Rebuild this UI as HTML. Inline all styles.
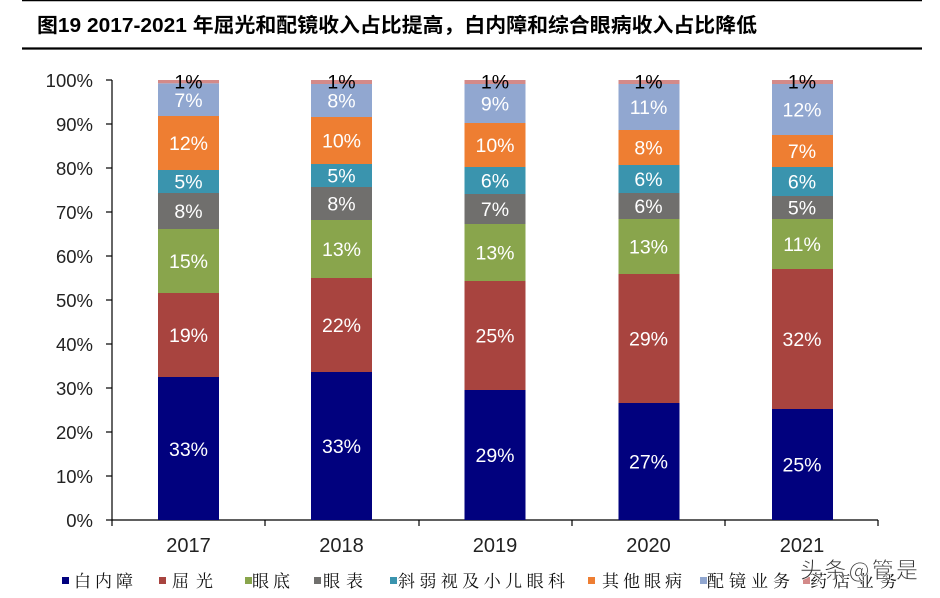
<!DOCTYPE html>
<html><head><meta charset="utf-8"><style>
html,body{margin:0;padding:0;background:#fff;}
svg{display:block;}
</style></head><body>
<svg width="940" height="598" viewBox="0 0 940 598" xmlns="http://www.w3.org/2000/svg" font-family="'Liberation Sans','Noto Sans CJK SC',sans-serif">
<rect width="940" height="598" fill="#fff"/>
<line x1="22" y1="0.5" x2="922" y2="0.5" stroke="#000" stroke-width="1.5"/>
<line x1="22" y1="48.5" x2="922" y2="48.5" stroke="#000" stroke-width="2.2"/>
<text x="37" y="32" font-size="20" font-weight="bold" fill="#000" textLength="720" lengthAdjust="spacingAndGlyphs">图19 2017-2021 年屈光和配镜收入占比提高，白内障和综合眼病收入占比降低</text>

<!-- axes -->
<g stroke="#000" stroke-width="1.2" fill="none">
<line x1="112" y1="80" x2="112" y2="520"/>
<line x1="112" y1="520" x2="878" y2="520"/>
<line x1="106" y1="80" x2="112" y2="80"/>
<line x1="106" y1="124" x2="112" y2="124"/>
<line x1="106" y1="168" x2="112" y2="168"/>
<line x1="106" y1="212" x2="112" y2="212"/>
<line x1="106" y1="256" x2="112" y2="256"/>
<line x1="106" y1="300" x2="112" y2="300"/>
<line x1="106" y1="344" x2="112" y2="344"/>
<line x1="106" y1="388" x2="112" y2="388"/>
<line x1="106" y1="432" x2="112" y2="432"/>
<line x1="106" y1="476" x2="112" y2="476"/>
<line x1="106" y1="520" x2="112" y2="520"/>
<line x1="112" y1="520" x2="112" y2="526"/>
<line x1="265" y1="520" x2="265" y2="526"/>
<line x1="419" y1="520" x2="419" y2="526"/>
<line x1="572" y1="520" x2="572" y2="526"/>
<line x1="725" y1="520" x2="725" y2="526"/>
<line x1="878" y1="520" x2="878" y2="526"/>
</g>
<g font-size="18.5" fill="#222" text-anchor="end">
<text x="93" y="87">100%</text>
<text x="93" y="131">90%</text>
<text x="93" y="175">80%</text>
<text x="93" y="219">70%</text>
<text x="93" y="263">60%</text>
<text x="93" y="307">50%</text>
<text x="93" y="351">40%</text>
<text x="93" y="395">30%</text>
<text x="93" y="439">20%</text>
<text x="93" y="483">10%</text>
<text x="93" y="527">0%</text>
</g>
<g font-size="20" fill="#222" text-anchor="middle">
<text x="188.5" y="552">2017</text>
<text x="341.5" y="552">2018</text>
<text x="495" y="552">2019</text>
<text x="648.5" y="552">2020</text>
<text x="802" y="552">2021</text>
</g>

<!-- bars -->
<!-- 2017 -->
<g>
<rect x="158" y="377" width="61" height="143" fill="#01017E"/>
<rect x="158" y="293" width="61" height="84" fill="#A8443F"/>
<rect x="158" y="229" width="61" height="64" fill="#89A54C"/>
<rect x="158" y="193" width="61" height="36" fill="#706F6D"/>
<rect x="158" y="170" width="61" height="23" fill="#3A94AE"/>
<rect x="158" y="116" width="61" height="54" fill="#EE7E32"/>
<rect x="158" y="83.3" width="61" height="32.7" fill="#91A7D0"/>
<rect x="158" y="80" width="61" height="3.3" fill="#D38A89"/>
</g>
<g>
<rect x="311" y="372" width="61" height="148" fill="#01017E"/>
<rect x="311" y="278" width="61" height="94" fill="#A8443F"/>
<rect x="311" y="220" width="61" height="58" fill="#89A54C"/>
<rect x="311" y="187" width="61" height="33" fill="#706F6D"/>
<rect x="311" y="164" width="61" height="23" fill="#3A94AE"/>
<rect x="311" y="117" width="61" height="47" fill="#EE7E32"/>
<rect x="311" y="84" width="61" height="33" fill="#91A7D0"/>
<rect x="311" y="80" width="61" height="4" fill="#D38A89"/>
</g>
<g>
<rect x="464.5" y="390" width="61" height="130" fill="#01017E"/>
<rect x="464.5" y="281" width="61" height="109" fill="#A8443F"/>
<rect x="464.5" y="224" width="61" height="57" fill="#89A54C"/>
<rect x="464.5" y="194" width="61" height="30" fill="#706F6D"/>
<rect x="464.5" y="167" width="61" height="27" fill="#3A94AE"/>
<rect x="464.5" y="123" width="61" height="44" fill="#EE7E32"/>
<rect x="464.5" y="84" width="61" height="39" fill="#91A7D0"/>
<rect x="464.5" y="80" width="61" height="4" fill="#D38A89"/>
</g>
<g>
<rect x="618.5" y="403" width="61" height="117" fill="#01017E"/>
<rect x="618.5" y="274" width="61" height="129" fill="#A8443F"/>
<rect x="618.5" y="219" width="61" height="55" fill="#89A54C"/>
<rect x="618.5" y="193" width="61" height="26" fill="#706F6D"/>
<rect x="618.5" y="165" width="61" height="28" fill="#3A94AE"/>
<rect x="618.5" y="130" width="61" height="35" fill="#EE7E32"/>
<rect x="618.5" y="84" width="61" height="46" fill="#91A7D0"/>
<rect x="618.5" y="80" width="61" height="4" fill="#D38A89"/>
</g>
<g>
<rect x="772" y="409" width="61" height="111" fill="#01017E"/>
<rect x="772" y="269" width="61" height="140" fill="#A8443F"/>
<rect x="772" y="219" width="61" height="50" fill="#89A54C"/>
<rect x="772" y="196" width="61" height="23" fill="#706F6D"/>
<rect x="772" y="167" width="61" height="29" fill="#3A94AE"/>
<rect x="772" y="135" width="61" height="32" fill="#EE7E32"/>
<rect x="772" y="84" width="61" height="51" fill="#91A7D0"/>
<rect x="772" y="80" width="61" height="4" fill="#D38A89"/>
</g>

<!-- bar labels -->
<g font-size="19.5" fill="#fff" text-anchor="middle">
<text x="188.5" y="456">33%</text>
<text x="188.5" y="342">19%</text>
<text x="188.5" y="268">15%</text>
<text x="188.5" y="218">8%</text>
<text x="188.5" y="188.5">5%</text>
<text x="188.5" y="150">12%</text>
<text x="188.5" y="107">7%</text>

<text x="341.5" y="453">33%</text>
<text x="341.5" y="332">22%</text>
<text x="341.5" y="256">13%</text>
<text x="341.5" y="210.5">8%</text>
<text x="341.5" y="182.5">5%</text>
<text x="341.5" y="147.5">10%</text>
<text x="341.5" y="107.5">8%</text>

<text x="495" y="462">29%</text>
<text x="495" y="342.5">25%</text>
<text x="495" y="259.5">13%</text>
<text x="495" y="216">7%</text>
<text x="495" y="187.5">6%</text>
<text x="495" y="152">10%</text>
<text x="495" y="110.5">9%</text>

<text x="648.5" y="468.5">27%</text>
<text x="648.5" y="345.5">29%</text>
<text x="648.5" y="253.5">13%</text>
<text x="648.5" y="213">6%</text>
<text x="648.5" y="186">6%</text>
<text x="648.5" y="154.5">8%</text>
<text x="648.5" y="114">11%</text>

<text x="802" y="471.5">25%</text>
<text x="802" y="346">32%</text>
<text x="802" y="251">11%</text>
<text x="802" y="214.5">5%</text>
<text x="802" y="188.5">6%</text>
<text x="802" y="158">7%</text>
<text x="802" y="116.5">12%</text>
</g>
<g font-size="19.5" fill="#000" text-anchor="middle">
<text x="188.5" y="88.5">1%</text>
<text x="341.5" y="88.5">1%</text>
<text x="495" y="88.5">1%</text>
<text x="648.5" y="88.5">1%</text>
<text x="802" y="88.5">1%</text>
</g>

<!-- legend -->
<g>
<rect x="62" y="577" width="7" height="7" fill="#01017E"/>
<rect x="159" y="577" width="7" height="7" fill="#A8443F"/>
<rect x="245" y="577" width="7" height="7" fill="#89A54C"/>
<rect x="314" y="577" width="7" height="7" fill="#706F6D"/>
<rect x="390" y="577" width="7" height="7" fill="#3A94AE"/>
<rect x="588" y="577" width="7" height="7" fill="#EE7E32"/>
<rect x="700" y="577" width="7" height="7" fill="#91A7D0"/>
<rect x="803" y="577" width="7" height="7" fill="#D38A89"/>
</g>
<g font-size="17" fill="#111" font-family="'Noto Serif CJK SC','Noto Sans CJK SC',sans-serif">
<text x="74" y="587" textLength="59" lengthAdjust="spacing">白内障</text>
<text x="172" y="587" textLength="41" lengthAdjust="spacing">屈光</text>
<text x="252" y="587" textLength="38" lengthAdjust="spacing">眼底</text>
<text x="323" y="587" textLength="40" lengthAdjust="spacing">眼表</text>
<text x="398" y="587" textLength="167" lengthAdjust="spacing">斜弱视及小儿眼科</text>
<text x="602" y="587" textLength="80" lengthAdjust="spacing">其他眼病</text>
<text x="707" y="587" textLength="83" lengthAdjust="spacing">配镜业务</text>
<text x="810" y="587" textLength="87" lengthAdjust="spacing">药店业务</text>
</g>
<text x="800" y="578" font-size="22" fill="#333" stroke="#fff" stroke-width="0.6" textLength="118" lengthAdjust="spacing" font-family="'Noto Sans CJK SC',sans-serif">头条@管是</text>
</svg>
</body></html>
